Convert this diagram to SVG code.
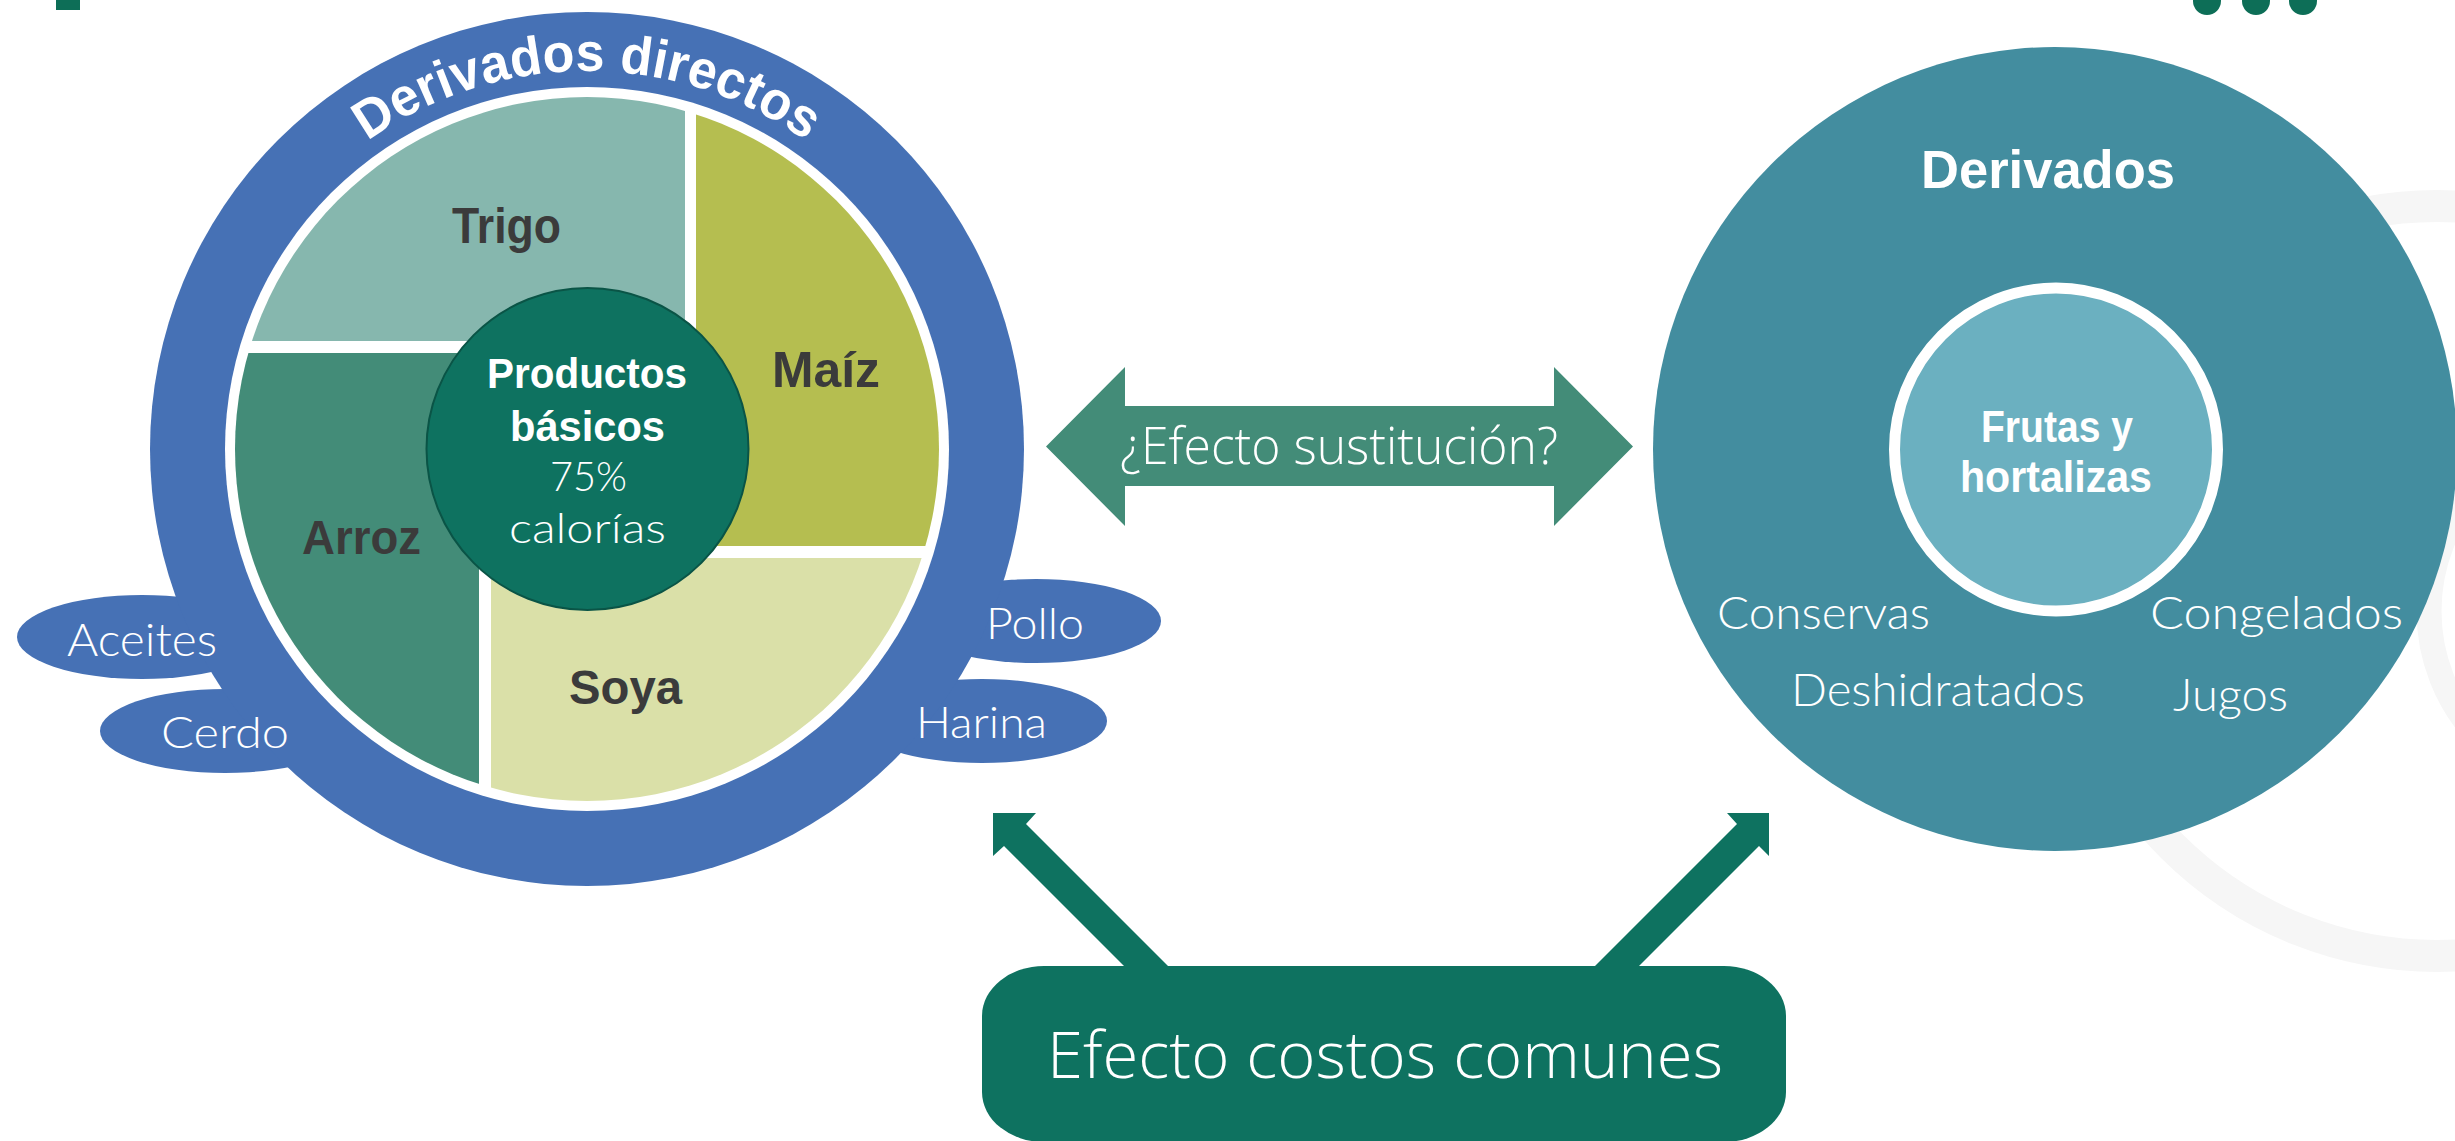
<svg xmlns="http://www.w3.org/2000/svg" width="2455" height="1141" viewBox="0 0 2455 1141">
<style>
.bold{font-family:"Liberation Sans","DejaVu Sans",sans-serif;font-weight:700}
.light{font-family:"Open Sans","Liberation Sans",sans-serif;font-weight:300}
.thin{font-family:Lato,"Liberation Sans",sans-serif;font-weight:300}
.w{fill:#ffffff}
.dk{fill:#3b3b3b}
.blue{fill:#4671b5}
.deco{fill:none;stroke:#f6f6f6}
</style>
<defs>
<clipPath id="pieClip"><circle cx="587" cy="449" r="352"/></clipPath>
<path id="arcTop" d="M 259.6 260 A 378 378 0 0 1 914.4 260"/>
</defs>
<rect x="0" y="0" width="2455" height="1141" fill="#ffffff"/>

<g id="decoration">
<rect x="56" y="0" width="24" height="10" fill="#0d6e57"/>
<circle cx="2207" cy="1" r="14" fill="#0d6e57"/>
<circle cx="2256" cy="1" r="14" fill="#0d6e57"/>
<circle cx="2303" cy="1" r="14" fill="#0d6e57"/>
<circle class="deco" cx="2437" cy="581" r="375" stroke-width="32"/>
<circle class="deco" cx="2612" cy="611" r="183" stroke-width="25"/>
</g>

<g id="derivados-directos">
<g id="aceites"><ellipse class="blue" cx="142" cy="637" rx="125" ry="42"/></g>
<g id="cerdo"><ellipse class="blue" cx="225" cy="731" rx="125" ry="42"/></g>
<g id="pollo"><ellipse class="blue" cx="1036" cy="621" rx="125" ry="42"/></g>
<g id="harina"><ellipse class="blue" cx="982" cy="721" rx="125" ry="42"/></g>
<circle class="blue" cx="587" cy="449" r="437"/>
<text class="thin w" x="142" y="656" font-size="46" text-anchor="middle" textLength="150" lengthAdjust="spacingAndGlyphs">Aceites</text>
<text class="thin w" x="225" y="748" font-size="44" text-anchor="middle" textLength="128" lengthAdjust="spacingAndGlyphs">Cerdo</text>
<text class="thin w" x="1035" y="639" font-size="44" text-anchor="middle" textLength="98" lengthAdjust="spacingAndGlyphs">Pollo</text>
<text class="thin w" x="981.5" y="738" font-size="44" text-anchor="middle" textLength="131" lengthAdjust="spacingAndGlyphs">Harina</text>
<text class="bold w" font-size="54"><textPath href="#arcTop" startOffset="50%" text-anchor="middle" textLength="468" lengthAdjust="spacingAndGlyphs">Derivados directos</textPath></text>
<circle cx="587" cy="449" r="362" fill="#ffffff"/>
</g>

<g id="pie" clip-path="url(#pieClip)">
<g id="trigo"><rect x="200" y="80" width="485" height="261" fill="#86b7ae"/></g>
<g id="maiz"><rect x="696" y="80" width="300" height="466" fill="#b5be50"/></g>
<g id="soya"><rect x="491" y="558" width="505" height="260" fill="#dae0a8"/></g>
<g id="arroz"><rect x="200" y="353" width="279" height="465" fill="#438c78"/></g>
</g>
<g id="pie-labels">
<text class="bold dk" x="506.5" y="243" font-size="50" text-anchor="middle" textLength="109" lengthAdjust="spacingAndGlyphs">Trigo</text>
<text class="bold dk" x="826" y="387" font-size="50" text-anchor="middle" textLength="108" lengthAdjust="spacingAndGlyphs">Maíz</text>
<text class="bold dk" x="361.5" y="554" font-size="48" text-anchor="middle" textLength="119" lengthAdjust="spacingAndGlyphs">Arroz</text>
<text class="bold dk" x="625.5" y="704" font-size="48" text-anchor="middle" textLength="113" lengthAdjust="spacingAndGlyphs">Soya</text>
</g>

<g id="productos-basicos">
<circle cx="587.5" cy="449" r="161" fill="#0e7260" stroke="#0a5446" stroke-width="2"/>
<text class="bold w" x="587" y="388" font-size="42" text-anchor="middle" textLength="200" lengthAdjust="spacingAndGlyphs">Productos</text>
<text class="bold w" x="587.5" y="441" font-size="42" text-anchor="middle" textLength="155" lengthAdjust="spacingAndGlyphs">básicos</text>
<text class="thin w" x="588.5" y="491" font-size="42" text-anchor="middle" textLength="77" lengthAdjust="spacingAndGlyphs">75%</text>
<text class="thin w" x="587.5" y="543" font-size="41" text-anchor="middle" textLength="157" lengthAdjust="spacingAndGlyphs">calorías</text>
</g>

<g id="derivados">
<circle cx="2055" cy="449" r="402" fill="#438d9f"/>
<text class="bold w" x="2048" y="188" font-size="54" text-anchor="middle" textLength="254" lengthAdjust="spacingAndGlyphs">Derivados</text>
<text class="thin w" x="1823.5" y="629" font-size="45" text-anchor="middle" textLength="213" lengthAdjust="spacingAndGlyphs">Conservas</text>
<text class="thin w" x="2276.5" y="629" font-size="45" text-anchor="middle" textLength="253" lengthAdjust="spacingAndGlyphs">Congelados</text>
<text class="thin w" x="1938" y="706" font-size="45" text-anchor="middle" textLength="294" lengthAdjust="spacingAndGlyphs">Deshidratados</text>
<text class="thin w" x="2230.5" y="711" font-size="45" text-anchor="middle" textLength="115" lengthAdjust="spacingAndGlyphs">Jugos</text>
</g>

<g id="frutas-hortalizas">
<circle cx="2056" cy="449.5" r="161.5" fill="#6bb0c0" stroke="#ffffff" stroke-width="11"/>
<text class="bold w" x="2057" y="442" font-size="44" text-anchor="middle" textLength="152" lengthAdjust="spacingAndGlyphs">Frutas y</text>
<text class="bold w" x="2056" y="492" font-size="44" text-anchor="middle" textLength="192" lengthAdjust="spacingAndGlyphs">hortalizas</text>
</g>

<g id="connectors">
<g id="efecto-sustitucion">
<polygon points="1046,446.5 1125,367 1125,406 1554,406 1554,367 1633,446.5 1554,526 1554,486 1125,486 1125,526" fill="#438c78"/>
<text class="light w" x="1339" y="464" font-size="52" text-anchor="middle" textLength="438" lengthAdjust="spacingAndGlyphs">¿Efecto sustitución?</text>
</g>
<polygon id="arrow-left" points="993,813 1036,813 1026,824 1172,970 1128,970 1004,846 993,856" fill="#0e7260"/>
<polygon id="arrow-right" points="1769,813 1727,813 1737,824 1591,970 1635,970 1759,846 1769,856" fill="#0e7260"/>
</g>

<g id="efecto-costos-comunes">
<rect x="982" y="966" width="804" height="176" rx="62" ry="50" fill="#0e7260"/>
<text class="light w" x="1385" y="1078" font-size="64" text-anchor="middle" textLength="676" lengthAdjust="spacingAndGlyphs">Efecto costos comunes</text>
</g>
</svg>
